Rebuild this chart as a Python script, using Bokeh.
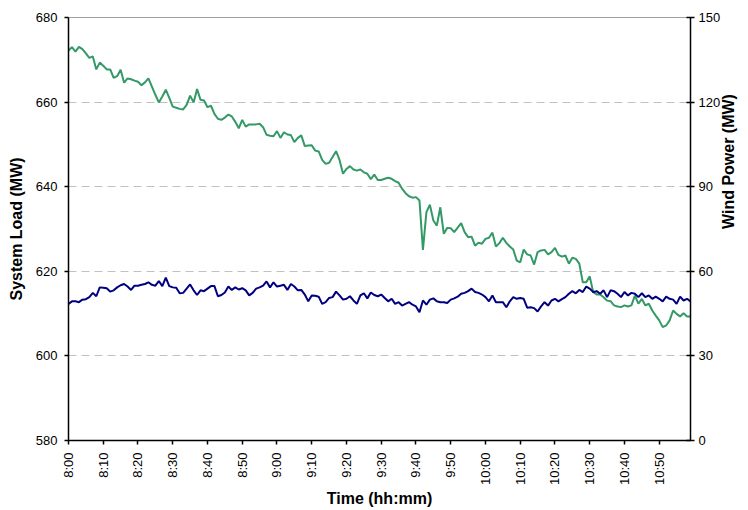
import math
from bokeh.plotting import figure
from bokeh.models import Range1d, LinearAxis, FixedTicker
from bokeh.embed import file_html
from bokeh.resources import INLINE

# minutes after 8:00 (1-minute samples, 8:00 .. 10:59)
minutes = list(range(180))

# System Load (MW), left axis
system_load = [
    612.3, 612.9, 612.9, 612.7, 613.3, 613.4, 613.9, 614.9, 614.1, 616.2,
    616.1, 616.0, 615.2, 615.5, 616.2, 616.7, 617.0, 616.4, 615.6, 616.6,
    616.6, 616.8, 617.0, 617.4, 616.8, 616.6, 617.7, 616.5, 618.5, 616.5,
    616.2, 616.1, 614.8, 614.9, 615.9, 616.9, 615.5, 614.4, 615.5, 615.3,
    615.9, 616.5, 616.5, 614.1, 614.4, 615.0, 616.4, 615.6, 616.2, 615.7,
    616.0, 615.5, 614.3, 614.9, 615.9, 616.2, 616.6, 617.6, 616.2, 617.4,
    616.4, 616.6, 616.8, 615.6, 617.0, 616.4, 615.5, 615.6, 614.5, 612.9,
    614.3, 614.2, 614.0, 612.3, 612.7, 613.7, 613.9, 615.2, 614.3, 613.3,
    613.5, 614.1, 613.1, 612.3, 614.3, 614.8, 613.6, 615.0, 614.4, 614.1,
    614.5, 613.7, 612.9, 613.5, 612.3, 612.7, 611.9, 612.3, 612.7, 612.1,
    611.7, 610.3, 613.1, 612.1, 613.3, 613.6, 612.9, 612.7, 612.7, 612.5,
    613.3, 613.6, 614.0, 614.7, 614.9, 615.3, 615.9, 615.1, 614.9, 614.5,
    613.9, 612.9, 614.3, 612.7, 612.7, 612.7, 611.5, 612.9, 613.9, 613.5,
    613.7, 613.5, 611.4, 611.5, 611.3, 610.5, 611.7, 612.7, 611.9, 613.1,
    613.5, 612.9, 613.4, 613.9, 614.7, 615.3, 614.8, 615.6, 615.1, 616.4,
    615.9, 615.1, 615.3, 614.7, 615.5, 613.9, 615.5, 615.3, 614.7, 613.9,
    615.1, 614.3, 614.9, 614.7, 613.9, 614.8, 613.9, 614.3, 613.5, 614.0,
    613.5, 612.9, 614.0, 613.5, 613.3, 612.3, 614.0, 613.1, 613.5, 612.9,
]

# Wind Power (MW), right axis
wind_power = [
    138.3, 139.5, 137.9, 139.6, 138.8, 137.3, 135.7, 136.2, 131.6, 134.0,
    132.9, 131.6, 131.6, 128.6, 129.2, 131.5, 126.9, 128.4, 128.1, 127.6,
    127.2, 126.0, 127.0, 128.4, 125.5, 122.6, 119.9, 122.0, 124.4, 121.5,
    118.4, 118.0, 117.6, 117.4, 119.0, 122.3, 119.9, 124.6, 120.8, 120.6,
    118.2, 118.7, 115.8, 114.1, 113.7, 114.5, 115.6, 114.9, 113.0, 110.7,
    113.7, 111.3, 112.1, 112.1, 112.1, 112.3, 111.1, 108.4, 108.1, 107.9,
    109.7, 107.3, 109.3, 108.5, 108.3, 105.8, 107.3, 108.2, 104.4, 104.6,
    104.7, 102.8, 102.5, 99.5, 98.1, 98.5, 100.5, 102.6, 99.5, 94.6,
    96.3, 97.3, 96.1, 95.7, 96.1, 95.1, 94.6, 92.7, 94.3, 92.4,
    92.4, 92.8, 93.2, 92.8, 92.0, 91.4, 89.3, 87.7, 86.6, 86.1,
    86.3, 85.1, 67.6, 81.0, 83.6, 78.0, 76.2, 82.7, 73.3, 75.4,
    75.3, 73.9, 75.5, 77.1, 73.9, 72.1, 72.3, 69.1, 70.1, 69.8,
    71.5, 71.9, 73.7, 68.8, 70.0, 71.9, 70.1, 68.8, 67.7, 63.8,
    63.2, 67.7, 66.0, 65.6, 62.4, 66.8, 67.4, 67.6, 66.0, 66.8,
    68.3, 65.8, 65.2, 65.6, 62.7, 64.8, 64.4, 62.7, 56.1, 56.1,
    58.2, 52.6, 51.8, 51.8, 50.8, 49.6, 49.4, 47.9, 47.5, 47.3,
    47.9, 47.5, 47.9, 51.4, 48.5, 50.2, 47.9, 48.5, 46.1, 44.3,
    42.6, 40.2, 40.8, 42.6, 46.1, 44.9, 44.0, 45.1, 44.0, 44.0,
]

tick_positions = [0, 10, 20, 30, 40, 50, 60, 70, 80, 90, 100, 110, 120, 130, 140, 150, 160, 170]
tick_labels = ["8:00", "8:10", "8:20", "8:30", "8:40", "8:50", "9:00", "9:10", "9:20",
               "9:30", "9:40", "9:50", "10:00", "10:10", "10:20", "10:30", "10:40", "10:50"]
load_ticks = [580, 600, 620, 640, 660, 680]
wind_ticks = [0, 30, 60, 90, 120, 150]

FONT = "Liberation Sans"
GREEN = "#339966"
NAVY = "#000080"

p = figure(width=748, height=510, output_backend="svg", toolbar_location=None,
           x_range=Range1d(0, 179), y_range=Range1d(580, 680),
           min_border_left=68, min_border_right=56, min_border_top=17, min_border_bottom=70)
p.extra_y_ranges = {"wind": Range1d(0, 150)}
p.background_fill_color = "white"
p.border_fill_color = "white"
p.outline_line_color = "#a0a0a0"
p.outline_line_width = 1

# lines
p.line(minutes, wind_power, y_range_name="wind", line_color=GREEN, line_width=2)
p.line(minutes, system_load, line_color=NAVY, line_width=2)

# grid
p.xgrid.visible = False
p.ygrid.ticker = FixedTicker(ticks=load_ticks)
p.ygrid.grid_line_color = "#c0c0c0"
p.ygrid.grid_line_dash = "8 5"
p.ygrid.grid_line_width = 1

# x axis
xa = p.xaxis[0]
xa.ticker = FixedTicker(ticks=tick_positions)
xa.major_label_overrides = {pos: lab for pos, lab in zip(tick_positions, tick_labels)}
xa.major_label_orientation = math.pi / 2
xa.axis_label = "Time (hh:mm)"
xa.minor_tick_line_color = None
xa.major_tick_in = 0
xa.major_tick_out = 4
xa.major_label_standoff = 8
xa.axis_label_standoff = 2

# left axis
ya = p.yaxis[0]
ya.ticker = FixedTicker(ticks=load_ticks)
ya.axis_label = "System Load (MW)"
ya.minor_tick_line_color = None
ya.major_tick_in = 0
ya.major_tick_out = 4
ya.major_label_standoff = 7
ya.axis_label_standoff = 8

# right axis
ra = LinearAxis(y_range_name="wind", ticker=FixedTicker(ticks=wind_ticks),
                axis_label="Wind Power (MW)")
ra.minor_tick_line_color = None
ra.major_tick_in = 4
ra.major_tick_out = 4
ra.major_label_standoff = 4
ra.axis_label_standoff = 5
ra.axis_label_orientation = math.pi / 2
p.add_layout(ra, "right")

for ax in [xa, ya, ra]:
    ax.axis_line_color = "black"
    ax.axis_line_width = 1.5
    ax.major_tick_line_color = "black"
    ax.major_tick_line_width = 1.5
    ax.major_label_text_font = FONT
    ax.major_label_text_font_size = "13px"
    ax.major_label_text_color = "black"
    ax.axis_label_text_font = FONT
    ax.axis_label_text_font_size = "16px"
    ax.axis_label_text_font_style = "bold"
    ax.axis_label_text_color = "black"

open("out.html", "w").write(file_html(p, INLINE))
